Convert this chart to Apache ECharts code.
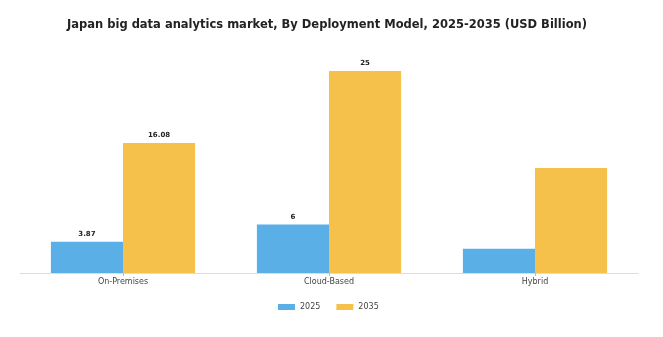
<!DOCTYPE html>
<html><head><meta charset="utf-8">
<script src="https://cdn.jsdelivr.net/npm/echarts@6/dist/echarts.min.js"></script>
<style>html,body{margin:0;padding:0;background:#fff}#c{width:663px;height:337px}</style>
</head><body><div id="c"></div>
<script>
const categories = ['On-Premises', 'Cloud-Based', 'Hybrid'];
const values2025 = [3.87, 6, 3.0];
const values2035 = [16.08, 25, 13.0];
const labels2025 = ['3.87', '6', ''];
const labels2035 = ['16.08', '25', ''];
const chart = echarts.init(document.getElementById('c'));
const lbl = (arr) => ({
  show: true, position: 'top', distance: 4,
  fontSize: 7, fontWeight: 'bold', color: '#222', fontFamily: 'DejaVu Sans',
  formatter: p => arr[p.dataIndex]
});
chart.setOption({
  animation: false,
  title: {
    text: 'Japan big data analytics market, By Deployment Model, 2025-2035 (USD Billion)',
    left: 62, top: 14,
    textStyle: { fontSize: 11.5, fontWeight: 'bold', color: '#222', fontFamily: 'DejaVu Sans' }
  },
  legend: {
    bottom: 21, left: 273, itemWidth: 17, itemHeight: 6, itemGap: 16,
    icon: 'rect',
    textStyle: { fontSize: 8, color: '#444', fontFamily: 'DejaVu Sans' },
    data: ['2025', '2035']
  },
  grid: { left: 20, right: 25, top: 71, bottom: 64 },
  xAxis: {
    type: 'category', data: categories,
    axisLine: { lineStyle: { color: '#ddd' } },
    axisTick: { show: true, alignWithLabel: true, length: 3, lineStyle: { color: '#bbb' } },
    axisLabel: { fontSize: 8, color: '#444', margin: 5, fontFamily: 'DejaVu Sans' }
  },
  yAxis: { type: 'value', min: 0, max: 25, show: false, splitLine: { show: false } },
  series: [
    { name: '2025', type: 'bar', data: values2025, barGap: '0%', barCategoryGap: '30%',
      itemStyle: { color: '#5aafe6' }, label: lbl(labels2025) },
    { name: '2035', type: 'bar', data: values2035,
      itemStyle: { color: '#f6c14b' }, label: lbl(labels2035) }
  ]
});
</script></body></html>
